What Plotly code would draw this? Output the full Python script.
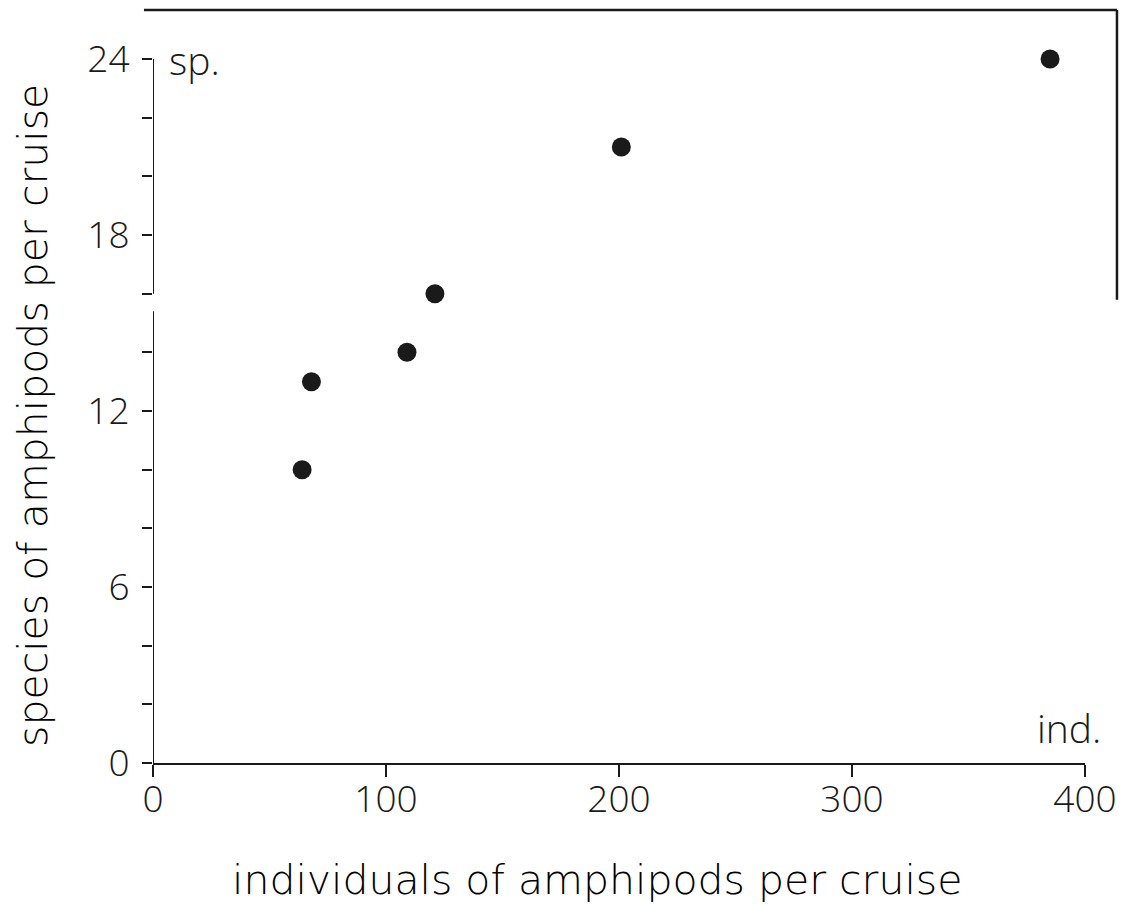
import plotly.graph_objects as go

# Data
individuals = [385, 201, 121, 109, 68, 64]
species = [24, 21, 16, 14, 13, 10]

x_ticks = [0, 100, 200, 300, 400]
y_ticks = [0, 6, 12, 18, 24]

FONT = "Open Sans"
TFONT = "DejaVu Sans"
INK = "#1a1a1a"
TICKFONT = dict(family=FONT, size=37, color=INK, weight=300)
TITLEFONT = dict(family=TFONT, size=41, color="#000000", weight=200)
LABELFONT = dict(family=FONT, size=39, color=INK, weight=300)

fig = go.Figure()
fig.add_trace(go.Scatter(
    x=individuals, y=species, mode="markers",
    marker=dict(size=19, color=INK, line=dict(width=0)),
    cliponaxis=False, showlegend=False, hoverinfo="x+y",
))

fig.update_layout(
    width=1121, height=905,
    margin=dict(l=153, r=36, t=59, b=142, autoexpand=False),
    plot_bgcolor="white", paper_bgcolor="white",
    font=dict(family=FONT, size=37, color=INK, weight=300),
    xaxis=dict(
        range=[0, 400], tickvals=x_ticks, ticktext=[str(v) for v in x_ticks],
        showgrid=False, zeroline=False, showline=True, linecolor=INK, linewidth=2,
        ticks="outside", ticklen=12, tickwidth=2, tickcolor=INK,
        tickfont=TICKFONT, automargin=False, ticklabelstandoff=-9,
    ),
    yaxis=dict(
        range=[0, 24], tickvals=y_ticks, ticktext=[str(v) for v in y_ticks],
        showgrid=False, zeroline=False, showline=False,
        ticks="outside", ticklen=10, tickwidth=2, tickcolor=INK,
        minor=dict(dtick=2, tick0=0, ticks="outside", ticklen=10, tickwidth=2,
                   tickcolor=INK, showgrid=False),
        tickfont=TICKFONT, automargin=False, ticklabelstandoff=5,
    ),
)

# axis titles
fig.add_annotation(text="individuals of amphipods per cruise", xref="paper", yref="paper",
                   x=0.476, y=-0.166, xanchor="center", yanchor="middle",
                   showarrow=False, font=TITLEFONT)
fig.add_annotation(text="species of amphipods per cruise", xref="paper", yref="paper",
                   x=-0.128, y=0.494, xanchor="center", yanchor="middle", textangle=-90,
                   showarrow=False, font=TITLEFONT)

# broken y-axis line (two segments)
fig.add_shape(type="line", xref="x", yref="y", x0=0, x1=0, y0=0, y1=15.4,
              line=dict(color=INK, width=2))
fig.add_shape(type="line", xref="x", yref="y", x0=0, x1=0, y0=16, y1=24,
              line=dict(color=INK, width=2))
# partial frame: top and right border
fig.add_shape(type="line", xref="paper", yref="paper", x0=-0.0097, x1=1.0343,
              y0=1.0696, y1=1.0696, line=dict(color=INK, width=2.5))
fig.add_shape(type="line", xref="paper", yref="paper", x0=1.0343, x1=1.0343,
              y0=1.0696, y1=0.658, line=dict(color=INK, width=2.5))

fig.add_annotation(text="sp.", xref="paper", yref="paper", x=0.015, y=1.0,
                   xanchor="left", yanchor="middle", showarrow=False, font=LABELFONT)
fig.add_annotation(text="ind.", xref="paper", yref="paper", x=1.019, y=0.051,
                   xanchor="right", yanchor="middle", showarrow=False, font=LABELFONT)

fig.write_html("out.html")
